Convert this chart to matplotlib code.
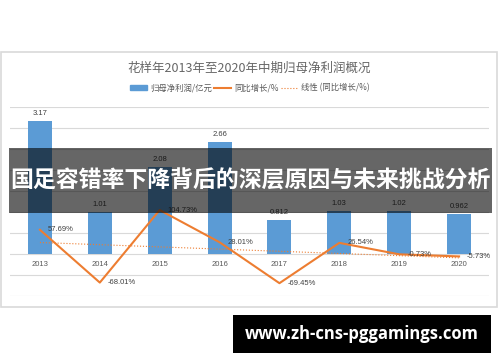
import matplotlib.pyplot as plt
import numpy as np
from matplotlib.patches import Rectangle
from matplotlib.lines import Line2D

plt.rcParams['font.family'] = ['Liberation Sans', 'Noto Sans CJK SC', 'DejaVu Sans']

# 数据
years = ['2013', '2014', '2015', '2016', '2017', '2018', '2019', '2020']
profit = [3.17, 1.01, 2.08, 2.66, 0.812, 1.03, 1.02, 0.962]
profit_labels = ['3.17', '1.01', '2.08', '2.66', '0.812', '1.03', '1.02', '0.962']
growth = [57.69, -68.01, 104.73, 28.01, -69.45, 26.54, -0.73, -5.73]

title = '花样年2013年至2020年中期归母净利润概况'
banner = '国足容错率下降背后的深层原因与未来挑战分析'
site = 'www.zh-cns-pggamings.com'

blue = '#5b9bd5'
orange = '#ed7d31'
grey_txt = '#595959'
grid_c = '#d9d9d9'

fig = plt.figure(figsize=(5, 3.62), dpi=100)

# 图表外框
fig.patches.append(Rectangle((0.002, 0.152), 0.992, 0.704, transform=fig.transFigure,
                             fill=False, edgecolor=grid_c, linewidth=1.2, zorder=0))

ax = fig.add_axes([0.02, 0.1823, 0.958, 0.522])
x = np.arange(len(years))
ax.bar(x, profit, width=0.4, color=blue, zorder=2)
ax.set_xlim(-0.5, len(years) - 0.5)
ax.set_ylim(-1, 3.5)
ax.set_yticks(np.arange(-1, 3.51, 0.5))
ax.grid(axis='y', color=grid_c, linewidth=0.8, zorder=0)
ax.set_axisbelow(True)
for s in ax.spines.values():
    s.set_visible(False)

for i, (v, lab) in enumerate(zip(profit, profit_labels)):
    ax.annotate(lab, (i, v), xytext=(0, 4), textcoords='offset pixels',
                ha='center', va='bottom', fontsize=5.5, color='#404040')
for i, y in enumerate(years):
    ax.annotate(y, (i, 0), xytext=(0, -10), textcoords='offset pixels',
                ha='center', va='center', fontsize=5.5, color=grey_txt)

ax2 = ax.twinx()
ax2.set_ylim(-100, 350)
ax2.plot(x, growth, color=orange, linewidth=1.5, zorder=3)
k, b = np.polyfit(x, growth, 1)
ax2.plot(x, k * x + b, color=orange, linewidth=0.8, linestyle=':', zorder=3)
ax2.axis('off')
ax.tick_params(left=False, right=False, bottom=False, labelleft=False, labelbottom=False)
for i, g in enumerate(growth):
    ax2.annotate('%.2f%%' % g, (i, g), xytext=(8, 0), textcoords='offset pixels',
                 ha='left', va='center', fontsize=5.5, color='#404040')

fig.text(0.499, 0.812, title, ha='center', va='center', fontsize=9, color='#666666',
         family=['Noto Sans CJK SC'], fontweight='light')

handles = [Rectangle((0, 0), 1, 1, color=blue),
           Line2D([], [], color=orange, linewidth=1.5),
           Line2D([], [], color=orange, linewidth=0.8, linestyle=':')]
labels = ['归母净利润/亿元', '同比增长/%', '线性 (同比增长/%)']
fig.legend(handles, labels, loc='center', bbox_to_anchor=(0.5, 0.757), ncol=3,
           frameon=False, labelcolor=grey_txt, handlelength=2.0,
           handleheight=0.5, columnspacing=0.3, handletextpad=0.4,
           prop={'family': ['Noto Sans CJK SC'], 'size': 6})

# 半透明横幅
fig.patches.append(Rectangle((0.018, 0.4116), 0.966, 0.1796, transform=fig.transFigure,
                             facecolor='black', alpha=0.6, edgecolor='none', zorder=10))
fig.text(0.501, 0.5, banner, ha='center', va='center', fontsize=16.5, color='white',
         fontweight='bold', family=['Noto Sans CJK SC'], zorder=11)

# 底部网址
fig.patches.append(Rectangle((0.466, 0.025), 0.516, 0.105, transform=fig.transFigure,
                             facecolor='black', edgecolor='none', zorder=10))
fig.text(0.724, 0.0775, site, ha='center', va='center', fontsize=12, color='white',
         fontweight='bold', family=['Open Sans'], zorder=11)

fig.savefig('out.png', dpi=100)
